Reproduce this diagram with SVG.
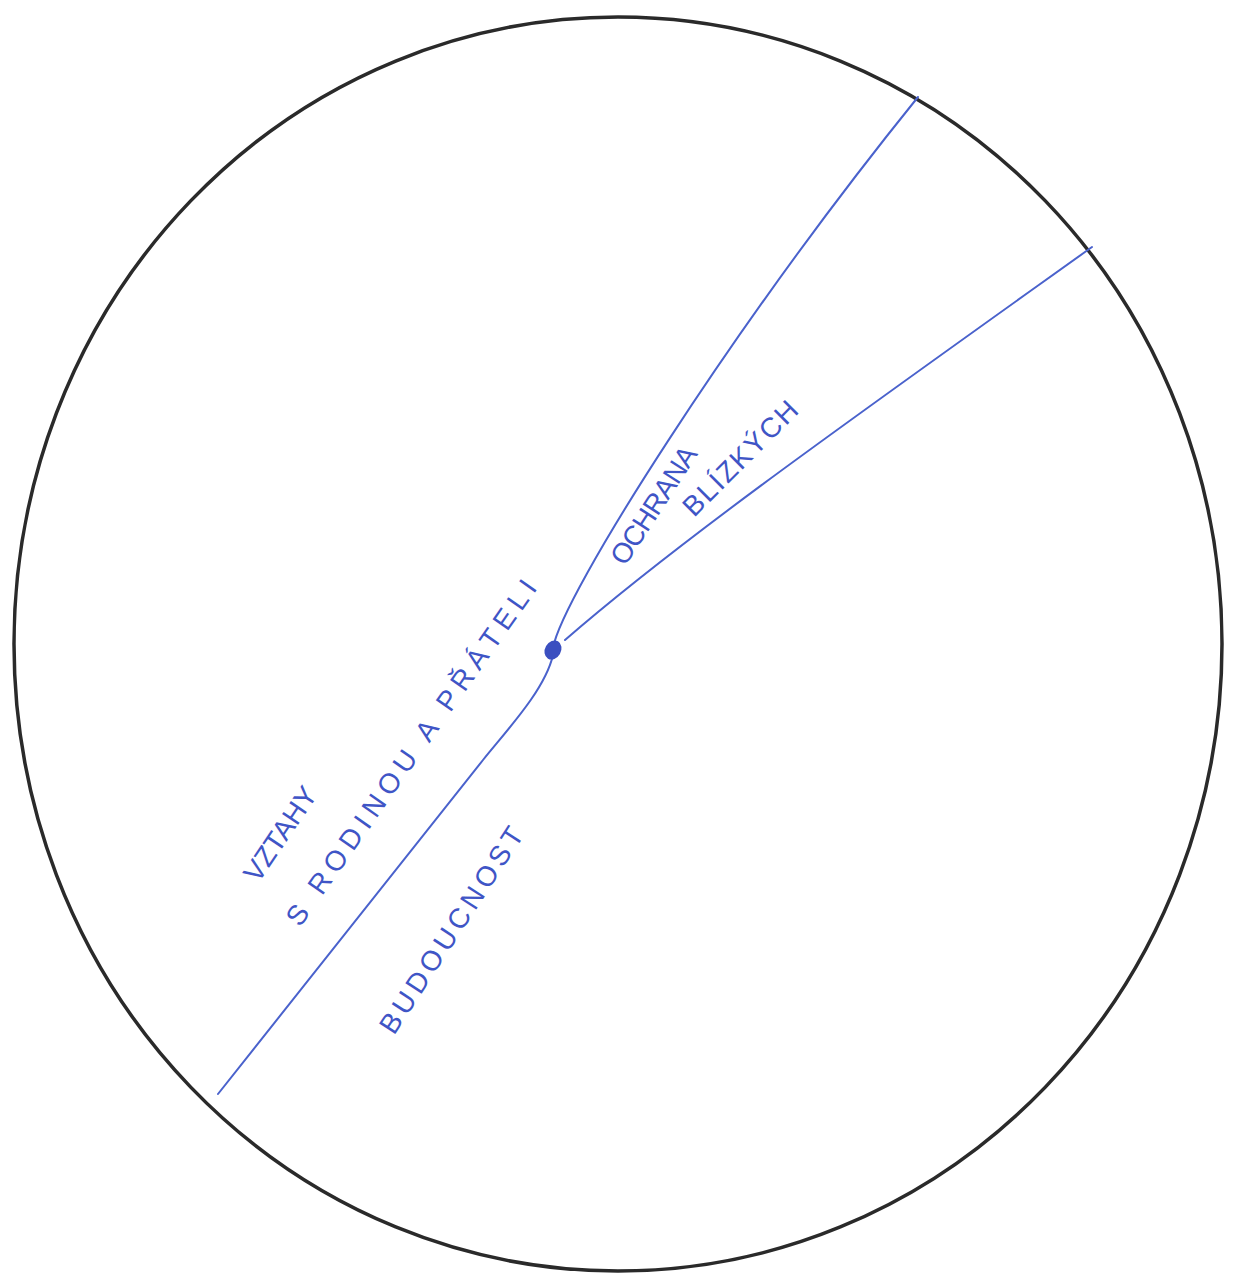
<svg xmlns="http://www.w3.org/2000/svg" width="1235" height="1279" viewBox="0 0 1235 1279">
<style>
.lbl{font-family:"Liberation Sans",Arial,sans-serif;fill:#3f55c6;font-size:28px}
.ln{fill:none;stroke:#4a62cc;stroke-width:2;stroke-linecap:round}
</style>
<rect width="1235" height="1279" fill="#fff"/>
<g id="circle"><ellipse cx="618" cy="644" rx="604" ry="627" fill="none" stroke="#2a2a2a" stroke-width="3.5"/></g>
<g id="connectors">
<path class="ln" d="M218,1094 L483,760 C507,730 545,690 553,655"/>
<path class="ln" d="M553,648 C562,596 730,330 918,97"/>
<path class="ln" d="M565,640 C680,540 850,420 1092,247"/>
</g>
<g id="center"><ellipse cx="553" cy="650" rx="8" ry="10" transform="rotate(30 553 650)" fill="#3b4fc0"/></g>
<g id="vztahy"><text class="lbl" transform="translate(258,884) rotate(-56)" textLength="108">VZTAHY</text></g>
<g id="rodina"><text class="lbl" transform="translate(300,928) rotate(-55)" textLength="415">S RODINOU A PŘÁTELI</text></g>
<g id="ochrana"><text class="lbl" font-size="22" transform="translate(625,567) rotate(-57)" textLength="135">OCHRANA</text></g>
<g id="blizkych"><text class="lbl" transform="translate(694,518) rotate(-45)" textLength="150">BLÍZKÝCH</text></g>
<g id="budoucnost"><text class="lbl" transform="translate(394,1036) rotate(-57)" textLength="240">BUDOUCNOST</text></g>
</svg>
